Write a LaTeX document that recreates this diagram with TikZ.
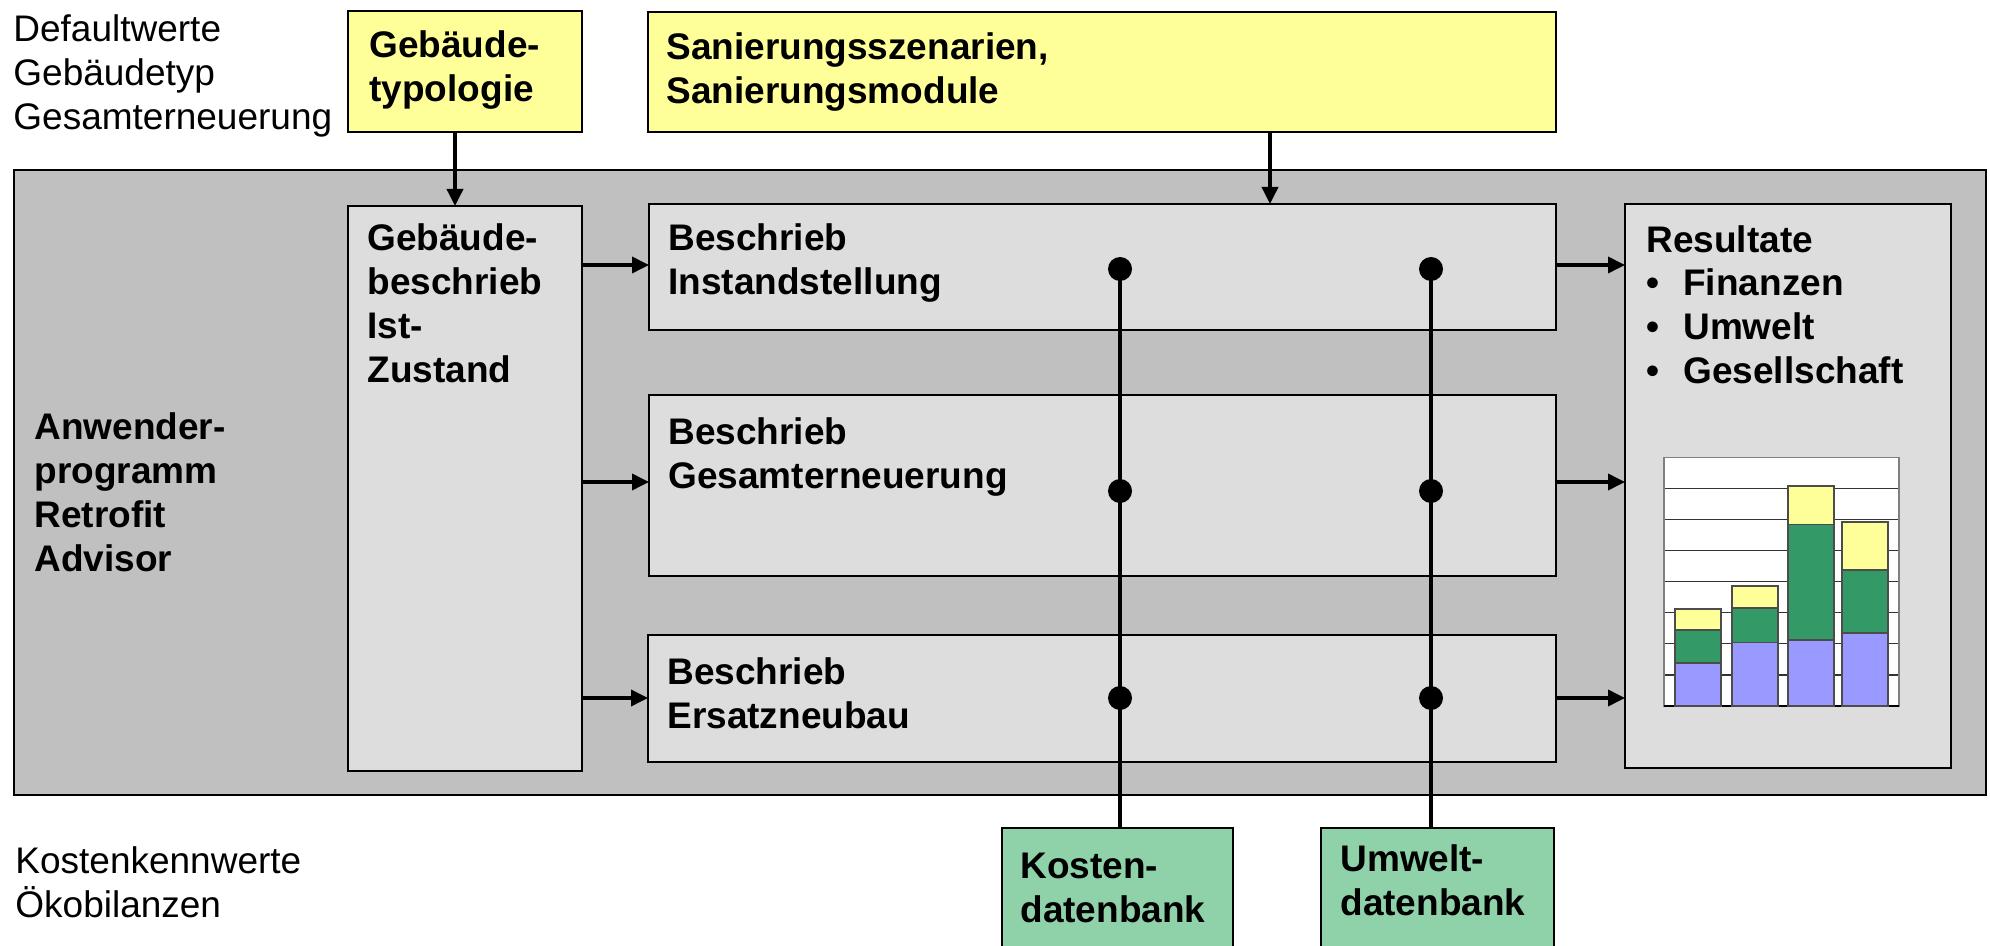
\documentclass[tikz,border=0pt]{standalone}
\usepackage{fontspec}
\setmainfont{Liberation Sans}
\usetikzlibrary{arrows.meta}
\definecolor{lyellow}{RGB}{255,255,153}
\definecolor{panelgray}{RGB}{192,192,192}
\definecolor{boxgray}{RGB}{221,221,221}
\definecolor{dbgreen}{RGB}{143,210,170}
\definecolor{barblue}{RGB}{153,153,255}
\definecolor{bargreen}{RGB}{51,153,102}
\begin{document}
\begin{tikzpicture}[x=0.5pt,y=-0.5pt,
  box/.style={draw=black, line width=1.2pt, anchor=north west, inner sep=0, outer sep=0},
  plain/.style={font=\fontsize{18.5}{22}\selectfont, anchor=base west, inner sep=0, align=left},
  bold/.style={plain, font=\fontsize{18.5}{22}\selectfont\bfseries},
  conn/.style={line width=1.8pt, -{Triangle[length=8.5pt,width=8pt]}},
  dbline/.style={line width=1.7pt},
  dot/.style={circle, fill=black, minimum size=12pt, inner sep=0},
  bar/.style={draw=black!70, line width=0.6pt},
]
\clip (0,0) rectangle (1990,946);
\fill[white] (0,0) rectangle (1990,946);

% boxes
\node[box, fill=panelgray, minimum width=986pt, minimum height=312.5pt] (panel) at (14,170) {};
\node[box, fill=lyellow, minimum width=117pt, minimum height=60.5pt] (typo) at (348,11) {};
\node[box, fill=lyellow, minimum width=454pt, minimum height=60pt] (san) at (648,12) {};
\node[box, fill=boxgray, minimum width=117pt, minimum height=282.5pt] (gebb) at (348,206) {};
\node[box, fill=boxgray, minimum width=453.5pt, minimum height=63pt] (inst) at (649,204) {};
\node[box, fill=boxgray, minimum width=453.5pt, minimum height=90.5pt] (gesamt) at (649,395) {};
\node[box, fill=boxgray, minimum width=454pt, minimum height=63.5pt] (ersatz) at (648,635) {};
\node[box, fill=boxgray, minimum width=163pt, minimum height=282pt] (res) at (1625,204) {};
\node[box, fill=dbgreen, minimum width=115.5pt, minimum height=66pt] (kosten) at (1002,828) {};
\node[box, fill=dbgreen, minimum width=116.5pt, minimum height=66pt] (umwelt) at (1321,828) {};

% texts (anchored at the baseline of the last line)
\node[plain] (deftxt) at (13,130) {Defaultwerte\\Gebäudetyp\\Gesamterneuerung};
\node[plain] (kkwtxt) at (15,917) {Kostenkennwerte\\Ökobilanzen};
\node[bold] (typotxt) at (369,101.5) {Gebäude-\\typologie};
\node[bold] (santxt) at (666,104) {Sanierungsszenarien,\\Sanierungsmodule};
\node[bold] (anwtxt) at (34,571.5) {Anwender-\\programm\\Retrofit\\Advisor};
\node[bold] (gebbtxt) at (367,382.5) {Gebäude-\\beschrieb\\Ist-\\Zustand};
\node[bold] (insttxt) at (668,295) {Beschrieb\\Instandstellung};
\node[bold] (gesamttxt) at (668,488) {Beschrieb\\Gesamterneuerung};
\node[bold] (ersatztxt) at (667,728) {Beschrieb\\Ersatzneubau};
\node[bold] (restxt) at (1646,384) {Resultate\\\makebox[18.5pt][l]{\textbullet}Finanzen\\\makebox[18.5pt][l]{\textbullet}Umwelt\\\makebox[18.5pt][l]{\textbullet}Gesellschaft};
\node[bold] (kostentxt) at (1020,922) {Kosten-\\datenbank};
\node[bold] (umwelttxt) at (1340,915) {Umwelt-\\datenbank};

% chart
\fill[white] (1664,457.5) rectangle (1899,706);
\foreach \k in {1,...,7} {
  \draw[black!80, line width=0.6pt] (1664,{457.5+31.06*\k}) -- (1899,{457.5+31.06*\k});
}
\draw[black!50, line width=0.8pt] (1664,457.5) rectangle (1899,706);
\draw[black, line width=0.8pt] (1664,706) -- (1899,706);
% bars: x0 x1 blue-top green-top yellow-top
\foreach \xa/\xb/\bt/\gt/\yt in {1675/1721/663/630/609, 1732/1778/642.5/608/586, 1788/1834/640/524.6/486, 1842/1888/633/570/522} {
  \filldraw[bar, fill=barblue] (\xa,706) rectangle (\xb,\bt);
  \filldraw[bar, fill=bargreen] (\xa,\bt) rectangle (\xb,\gt);
  \filldraw[bar, fill=lyellow] (\xa,\gt) rectangle (\xb,\yt);
}

% arrow coordinates
\coordinate (r1) at (0,265);
\coordinate (r2) at (0,482);
\coordinate (r3) at (0,698);
\coordinate (sanx) at (1270,0);

\draw[conn] ([xshift=-5pt]typo.south) -- ([xshift=-5pt]gebb.north);
\draw[conn] (san.south -| sanx) -- (inst.north -| sanx);
\draw[conn] (gebb.east |- r1) -- (inst.west |- r1);
\draw[conn] (gebb.east |- r2) -- (gesamt.west |- r2);
\draw[conn] (gebb.east |- r3) -- (ersatz.west |- r3);
\draw[conn] (inst.east |- r1) -- (res.west |- r1);
\draw[conn] (gesamt.east |- r2) -- (res.west |- r2);
\draw[conn] (ersatz.east |- r3) -- (res.west |- r3);

% database connections
\coordinate (kx) at (1120,0);
\coordinate (ux) at (1431,0);
\node[dot] (k1) at (1120,269) {};
\node[dot] (k2) at (1120,491) {};
\node[dot] (k3) at (1120,698) {};
\node[dot] (u1) at (1431,269) {};
\node[dot] (u2) at (1431,491) {};
\node[dot] (u3) at (1431,698) {};
\draw[dbline] (k1.center) -- (kosten.north -| kx);
\draw[dbline] (u1.center) -- (umwelt.north -| ux);
\end{tikzpicture}
\end{document}
